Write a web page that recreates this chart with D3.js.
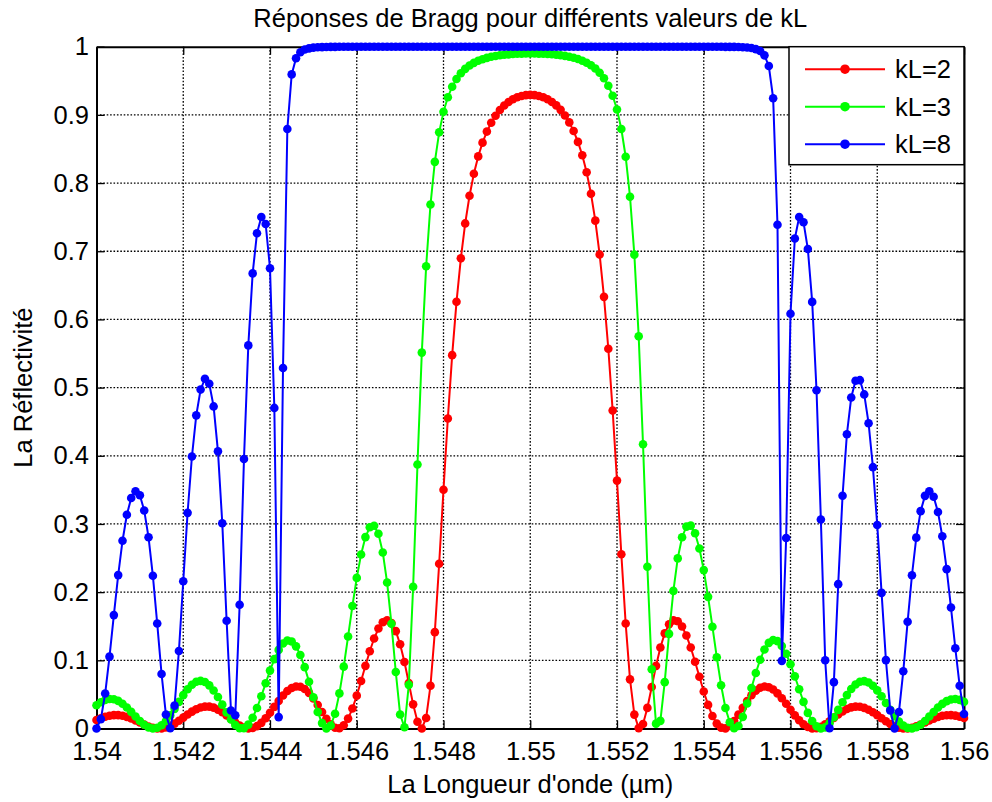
<!DOCTYPE html>
<html>
<head>
<meta charset="utf-8">
<script src="https://cdn.jsdelivr.net/npm/d3@7"></script>
<style>
  body { margin: 0; background: #fff; }
  text { font-family: "Liberation Sans", Arial, sans-serif; fill: #000; }
</style>
</head>
<body>
<script>
// DATA : WAVELENGTH (um) AND REFLECTIVITY FOR EACH kL
const wavelength = [
  1.5400, 1.5401, 1.5402, 1.5403, 1.5404, 1.5405, 1.5406, 1.5407, 1.5408, 1.5409,
  1.5410, 1.5411, 1.5412, 1.5413, 1.5414, 1.5415, 1.5416, 1.5417, 1.5418, 1.5419,
  1.5420, 1.5421, 1.5422, 1.5423, 1.5424, 1.5425, 1.5426, 1.5427, 1.5428, 1.5429,
  1.5430, 1.5431, 1.5432, 1.5433, 1.5434, 1.5435, 1.5436, 1.5437, 1.5438, 1.5439,
  1.5440, 1.5441, 1.5442, 1.5443, 1.5444, 1.5445, 1.5446, 1.5447, 1.5448, 1.5449,
  1.5450, 1.5451, 1.5452, 1.5453, 1.5454, 1.5455, 1.5456, 1.5457, 1.5458, 1.5459,
  1.5460, 1.5461, 1.5462, 1.5463, 1.5464, 1.5465, 1.5466, 1.5467, 1.5468, 1.5469,
  1.5470, 1.5471, 1.5472, 1.5473, 1.5474, 1.5475, 1.5476, 1.5477, 1.5478, 1.5479,
  1.5480, 1.5481, 1.5482, 1.5483, 1.5484, 1.5485, 1.5486, 1.5487, 1.5488, 1.5489,
  1.5490, 1.5491, 1.5492, 1.5493, 1.5494, 1.5495, 1.5496, 1.5497, 1.5498, 1.5499,
  1.5500, 1.5501, 1.5502, 1.5503, 1.5504, 1.5505, 1.5506, 1.5507, 1.5508, 1.5509,
  1.5510, 1.5511, 1.5512, 1.5513, 1.5514, 1.5515, 1.5516, 1.5517, 1.5518, 1.5519,
  1.5520, 1.5521, 1.5522, 1.5523, 1.5524, 1.5525, 1.5526, 1.5527, 1.5528, 1.5529,
  1.5530, 1.5531, 1.5532, 1.5533, 1.5534, 1.5535, 1.5536, 1.5537, 1.5538, 1.5539,
  1.5540, 1.5541, 1.5542, 1.5543, 1.5544, 1.5545, 1.5546, 1.5547, 1.5548, 1.5549,
  1.5550, 1.5551, 1.5552, 1.5553, 1.5554, 1.5555, 1.5556, 1.5557, 1.5558, 1.5559,
  1.5560, 1.5561, 1.5562, 1.5563, 1.5564, 1.5565, 1.5566, 1.5567, 1.5568, 1.5569,
  1.5570, 1.5571, 1.5572, 1.5573, 1.5574, 1.5575, 1.5576, 1.5577, 1.5578, 1.5579,
  1.5580, 1.5581, 1.5582, 1.5583, 1.5584, 1.5585, 1.5586, 1.5587, 1.5588, 1.5589,
  1.5590, 1.5591, 1.5592, 1.5593, 1.5594, 1.5595, 1.5596, 1.5597, 1.5598, 1.5599,
  1.5600
];

const reflectKL2 = [
  0.0124, 0.0151, 0.0172, 0.0188, 0.0196, 0.0196, 0.0187, 0.0170, 0.0146, 0.0117,
  0.0087, 0.0057, 0.0030, 0.0011, 0.0001, 0.0002, 0.0014, 0.0038, 0.0072, 0.0113,
  0.0159, 0.0205, 0.0247, 0.0283, 0.0308, 0.0321, 0.0321, 0.0306, 0.0277, 0.0238,
  0.0190, 0.0139, 0.0088, 0.0045, 0.0014, 0.0000, 0.0007, 0.0035, 0.0083, 0.0150,
  0.0230, 0.0317, 0.0403, 0.0483, 0.0549, 0.0595, 0.0617, 0.0612, 0.0580, 0.0522,
  0.0441, 0.0345, 0.0241, 0.0142, 0.0061, 0.0010, 0.0003, 0.0047, 0.0145, 0.0293,
  0.0482, 0.0696, 0.0919, 0.1133, 0.1320, 0.1466, 0.1559, 0.1588, 0.1546, 0.1428,
  0.1236, 0.0975, 0.0668, 0.0354, 0.0100, 0.0000, 0.0154, 0.0628, 0.1413, 0.2416,
  0.3502, 0.4547, 0.5476, 0.6258, 0.6896, 0.7408, 0.7814, 0.8136, 0.8391, 0.8593,
  0.8755, 0.8884, 0.8988, 0.9071, 0.9137, 0.9188, 0.9229, 0.9258, 0.9278, 0.9290,
  0.9293, 0.9290, 0.9278, 0.9258, 0.9230, 0.9189, 0.9139, 0.9074, 0.8992, 0.8890,
  0.8763, 0.8604, 0.8407, 0.8158, 0.7844, 0.7449, 0.6951, 0.6331, 0.5570, 0.4663,
  0.3636, 0.2555, 0.1539, 0.0721, 0.0204, 0.0006, 0.0067, 0.0302, 0.0608, 0.0919,
  0.1189, 0.1395, 0.1528, 0.1586, 0.1573, 0.1496, 0.1364, 0.1187, 0.0980, 0.0760,
  0.0542, 0.0346, 0.0184, 0.0072, 0.0013, 0.0002, 0.0039, 0.0111, 0.0203, 0.0303,
  0.0402, 0.0488, 0.0555, 0.0598, 0.0615, 0.0605, 0.0571, 0.0515, 0.0444, 0.0362,
  0.0276, 0.0193, 0.0120, 0.0062, 0.0023, 0.0002, 0.0004, 0.0026, 0.0061, 0.0106,
  0.0156, 0.0205, 0.0250, 0.0286, 0.0310, 0.0321, 0.0318, 0.0302, 0.0275, 0.0238,
  0.0196, 0.0151, 0.0107, 0.0067, 0.0035, 0.0013, 0.0001, 0.0002, 0.0012, 0.0032,
  0.0058, 0.0087, 0.0117, 0.0145, 0.0169, 0.0186, 0.0195, 0.0196, 0.0189, 0.0174,
  0.0154
];

const reflectKL3 = [
  0.0340, 0.0386, 0.0418, 0.0432, 0.0428, 0.0405, 0.0364, 0.0309, 0.0244, 0.0176,
  0.0110, 0.0054, 0.0016, 0.0000, 0.0010, 0.0047, 0.0110, 0.0192, 0.0288, 0.0391,
  0.0489, 0.0575, 0.0642, 0.0685, 0.0698, 0.0681, 0.0633, 0.0558, 0.0461, 0.0350,
  0.0236, 0.0132, 0.0051, 0.0006, 0.0006, 0.0057, 0.0158, 0.0301, 0.0474, 0.0664,
  0.0849, 0.1017, 0.1153, 0.1247, 0.1290, 0.1276, 0.1205, 0.1077, 0.0900, 0.0686,
  0.0458, 0.0243, 0.0079, 0.0002, 0.0044, 0.0217, 0.0515, 0.0907, 0.1349, 0.1797,
  0.2209, 0.2553, 0.2807, 0.2952, 0.2974, 0.2856, 0.2582, 0.2141, 0.1536, 0.0829,
  0.0206, 0.0018, 0.0640, 0.2080, 0.3873, 0.5513, 0.6780, 0.7685, 0.8311, 0.8744,
  0.9045, 0.9259, 0.9413, 0.9527, 0.9611, 0.9675, 0.9725, 0.9763, 0.9793, 0.9817,
  0.9836, 0.9852, 0.9864, 0.9874, 0.9882, 0.9888, 0.9893, 0.9897, 0.9899, 0.9901,
  0.9901, 0.9901, 0.9899, 0.9897, 0.9893, 0.9889, 0.9883, 0.9874, 0.9865, 0.9852,
  0.9837, 0.9819, 0.9795, 0.9765, 0.9728, 0.9680, 0.9618, 0.9537, 0.9428, 0.9281,
  0.9078, 0.8793, 0.8386, 0.7799, 0.6950, 0.5752, 0.4169, 0.2373, 0.0870, 0.0071,
  0.0112, 0.0680, 0.1388, 0.2018, 0.2495, 0.2806, 0.2961, 0.2975, 0.2863, 0.2641,
  0.2323, 0.1931, 0.1493, 0.1046, 0.0634, 0.0301, 0.0091, 0.0003, 0.0036, 0.0171,
  0.0367, 0.0593, 0.0815, 0.1009, 0.1159, 0.1256, 0.1297, 0.1281, 0.1211, 0.1096,
  0.0943, 0.0765, 0.0575, 0.0391, 0.0229, 0.0111, 0.0032, 0.0001, 0.0017, 0.0078,
  0.0165, 0.0273, 0.0384, 0.0490, 0.0579, 0.0646, 0.0685, 0.0695, 0.0675, 0.0628,
  0.0559, 0.0472, 0.0374, 0.0275, 0.0182, 0.0103, 0.0044, 0.0009, 0.0000, 0.0018,
  0.0056, 0.0111, 0.0176, 0.0243, 0.0307, 0.0361, 0.0402, 0.0426, 0.0432, 0.0420,
  0.0390
];

const reflectKL8 = [
  0.0000, 0.0137, 0.0513, 0.1054, 0.1663, 0.2250, 0.2754, 0.3135, 0.3381, 0.3479,
  0.3422, 0.3198, 0.2804, 0.2240, 0.1539, 0.0799, 0.0206, 0.0003, 0.0335, 0.1136,
  0.2159, 0.3163, 0.3989, 0.4593, 0.4971, 0.5129, 0.5057, 0.4724, 0.4066, 0.3010,
  0.1581, 0.0265, 0.0194, 0.1814, 0.3953, 0.5619, 0.6675, 0.7264, 0.7503, 0.7400,
  0.6750, 0.4702, 0.0167, 0.5287, 0.8792, 0.9594, 0.9831, 0.9919, 0.9958, 0.9976,
  0.9986, 0.9991, 0.9994, 0.9996, 0.9997, 0.9998, 0.9999, 0.9999, 0.9999, 1.0000,
  1.0000, 1.0000, 1.0000, 1.0000, 1.0000, 1.0000, 1.0000, 1.0000, 1.0000, 1.0000,
  1.0000, 1.0000, 1.0000, 1.0000, 1.0000, 1.0000, 1.0000, 1.0000, 1.0000, 1.0000,
  1.0000, 1.0000, 1.0000, 1.0000, 1.0000, 1.0000, 1.0000, 1.0000, 1.0000, 1.0000,
  1.0000, 1.0000, 1.0000, 1.0000, 1.0000, 1.0000, 1.0000, 1.0000, 1.0000, 1.0000,
  1.0000, 1.0000, 1.0000, 1.0000, 1.0000, 1.0000, 1.0000, 1.0000, 1.0000, 1.0000,
  1.0000, 1.0000, 1.0000, 1.0000, 1.0000, 1.0000, 1.0000, 1.0000, 1.0000, 1.0000,
  1.0000, 1.0000, 1.0000, 1.0000, 1.0000, 1.0000, 1.0000, 1.0000, 1.0000, 1.0000,
  1.0000, 1.0000, 1.0000, 1.0000, 1.0000, 1.0000, 1.0000, 1.0000, 1.0000, 1.0000,
  1.0000, 1.0000, 0.9999, 0.9999, 0.9999, 0.9998, 0.9998, 0.9997, 0.9995, 0.9992,
  0.9988, 0.9980, 0.9965, 0.9937, 0.9873, 0.9717, 0.9245, 0.7389, 0.0992, 0.2794,
  0.6083, 0.7186, 0.7501, 0.7426, 0.7032, 0.6257, 0.4962, 0.3066, 0.1002, 0.0003,
  0.0680, 0.2117, 0.3414, 0.4316, 0.4854, 0.5101, 0.5109, 0.4900, 0.4478, 0.3833,
  0.2984, 0.1989, 0.1003, 0.0266, 0.0000, 0.0242, 0.0839, 0.1565, 0.2248, 0.2799,
  0.3188, 0.3412, 0.3480, 0.3399, 0.3175, 0.2819, 0.2337, 0.1774, 0.1177, 0.0626,
  0.0213
];

const seriesNames = ["kL=2", "kL=3", "kL=8"];
const seriesColors = ["#ff0000", "#00ff00", "#0000ff"];

const xTicks = [1.54, 1.542, 1.544, 1.546, 1.548, 1.55, 1.552, 1.554, 1.556, 1.558, 1.56];
const xTickLabels = ["1.54", "1.542", "1.544", "1.546", "1.548", "1.55", "1.552", "1.554", "1.556", "1.558", "1.56"];
const yTicks = [0, 0.1, 0.2, 0.3, 0.4, 0.5, 0.6, 0.7, 0.8, 0.9, 1];
const yTickLabels = ["0", "0.1", "0.2", "0.3", "0.4", "0.5", "0.6", "0.7", "0.8", "0.9", "1"];

// CREATE VALUES
const margin = {top: 46.7, right: 28, bottom: 73.5, left: 96.5};
const width = 992 - margin.left - margin.right;
const height = 802 - margin.top - margin.bottom;
const fontSize = "25.5px";

// LOAD SVG
var root = d3.select("body").append("svg")
  .attr("width", 992)
  .attr("height", 802);
var svg = root.append("g")
  .attr("transform", `translate(${margin.left},${margin.top})`);

// SCALES
var x = d3.scaleLinear().domain([1.54, 1.56]).range([0, width]);
var y = d3.scaleLinear().domain([0, 1]).range([height, 0]);

// DOTTED GRID
svg.append("g").selectAll("line")
  .data(xTicks.slice(1, -1))
  .join("line")
  .attr("x1", d => x(d)).attr("x2", d => x(d))
  .attr("y1", 0).attr("y2", height)
  .attr("stroke", "#000").attr("stroke-width", 1.3)
  .attr("stroke-dasharray", "1.6,1.8");
svg.append("g").selectAll("line")
  .data(yTicks.slice(1, -1))
  .join("line")
  .attr("x1", 0).attr("x2", width)
  .attr("y1", d => y(d)).attr("y2", d => y(d))
  .attr("stroke", "#000").attr("stroke-width", 1.3)
  .attr("stroke-dasharray", "1.6,1.8");

// AXES (TICKS INSIDE, BOX ON)
function styleAxis(g) {
  g.selectAll("path.domain").attr("stroke-width", 2);
  g.selectAll(".tick line").attr("stroke-width", 1.3);
  g.selectAll("text").style("font-family", "'Liberation Sans', Arial, sans-serif")
    .style("font-size", fontSize).attr("fill", "#000");
}
svg.append("g")
  .attr("transform", `translate(0,${height})`)
  .call(d3.axisBottom(x).tickValues(xTicks).tickFormat((d, i) => xTickLabels[i])
    .tickSize(-8).tickSizeOuter(0).tickPadding(13))
  .call(styleAxis);
svg.append("g")
  .call(d3.axisTop(x).tickValues(xTicks).tickFormat("").tickSize(-8).tickSizeOuter(0))
  .call(styleAxis);
svg.append("g")
  .call(d3.axisLeft(y).tickValues(yTicks).tickFormat((d, i) => yTickLabels[i])
    .tickSize(-8).tickSizeOuter(0).tickPadding(7.5))
  .call(styleAxis);
svg.append("g")
  .attr("transform", `translate(${width},0)`)
  .call(d3.axisRight(y).tickValues(yTicks).tickFormat("").tickSize(-8).tickSizeOuter(0))
  .call(styleAxis);

// LINES AND MARKERS
var series = [reflectKL2, reflectKL3, reflectKL8].map((vals, i) => ({
  name: seriesNames[i],
  color: seriesColors[i],
  points: vals.map((v, j) => ({wl: wavelength[j], r: v}))
}));

var line = d3.line()
  .x(d => x(d.wl))
  .y(d => y(d.r));

series.forEach(function(s) {
  var g = svg.append("g");
  g.append("path")
    .datum(s.points)
    .attr("fill", "none")
    .attr("stroke", s.color)
    .attr("stroke-width", 2)
    .attr("d", line);
  g.selectAll("circle")
    .data(s.points)
    .join("circle")
    .attr("cx", d => x(d.wl))
    .attr("cy", d => y(d.r))
    .attr("r", 4.3)
    .attr("fill", s.color);
});

// LEGEND
var legend = svg.append("g")
  .attr("transform", `translate(${width - 175},0)`);
legend.append("rect")
  .attr("x", 0).attr("y", 0)
  .attr("width", 175).attr("height", 118)
  .attr("fill", "#fff")
  .attr("stroke", "#000")
  .attr("stroke-width", 1.5);
series.forEach(function(s, i) {
  var ly = 22.5 + i * 37.5;
  legend.append("line")
    .attr("x1", 16).attr("x2", 96)
    .attr("y1", ly).attr("y2", ly)
    .attr("stroke", s.color).attr("stroke-width", 2);
  legend.append("circle")
    .attr("cx", 56).attr("cy", ly).attr("r", 4.8)
    .attr("fill", s.color);
  legend.append("text")
    .attr("x", 106).attr("y", ly + 9)
    .style("font-size", fontSize)
    .text(s.name);
});

// TITLE
root.append("text")
  .attr("x", margin.left + width / 2)
  .attr("y", 27)
  .attr("text-anchor", "middle")
  .style("font-size", fontSize)
  .text("Réponses de Bragg pour différents valeurs de kL");

// X LABEL
root.append("text")
  .attr("x", margin.left + width / 2)
  .attr("y", 792.5)
  .attr("text-anchor", "middle")
  .style("font-size", fontSize)
  .text("La Longueur d'onde (µm)");

// Y LABEL
root.append("text")
  .attr("transform", `translate(32,${margin.top + height / 2}) rotate(-90)`)
  .attr("text-anchor", "middle")
  .style("font-size", fontSize)
  .text("La Réflectivité");
</script>
</body>
</html>
